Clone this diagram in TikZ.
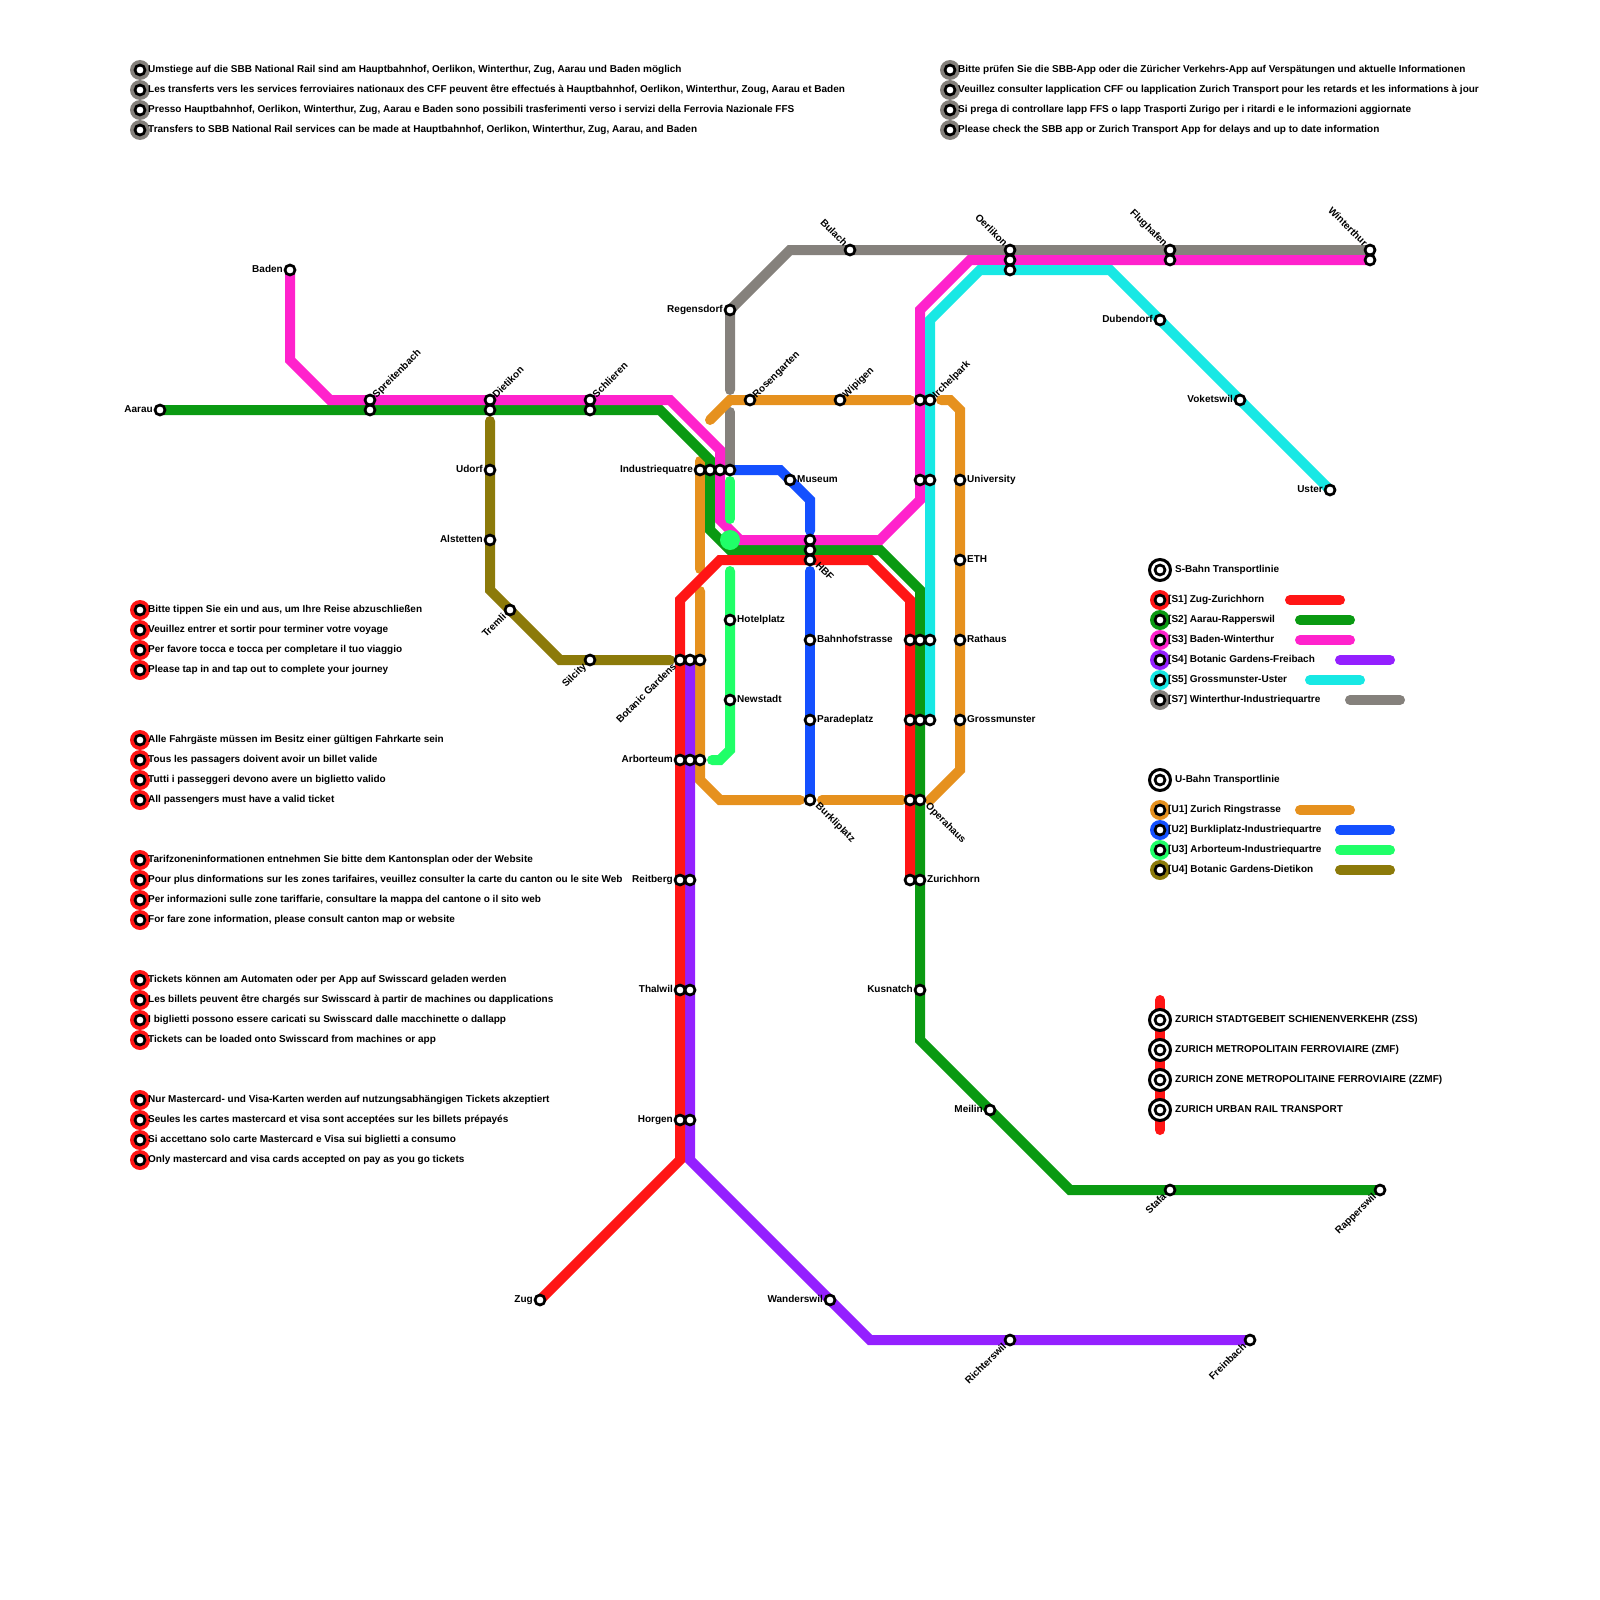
\documentclass[tikz,border=0pt]{standalone}
\usepackage{fontspec}
\setmainfont{Liberation Sans}
\newfontfamily\mapfont{Liberation Sans Bold}
\usetikzlibrary{calc}
\pgfdeclarelayer{lines}
\pgfsetlayers{lines,main}
\definecolor{cS1}{HTML}{FF1515}
\definecolor{cS2}{HTML}{0A9A12}
\definecolor{cS3}{HTML}{FF22CC}
\definecolor{cS4}{HTML}{9420FF}
\definecolor{cS5}{HTML}{18E8E4}
\definecolor{cS7}{HTML}{85817C}
\definecolor{cU1}{HTML}{E6911E}
\definecolor{cU2}{HTML}{1450FF}
\definecolor{cU3}{HTML}{20FF68}
\definecolor{cU4}{HTML}{8C7A0A}
\tikzset{
 x=1pt,y=-1pt,
 stn/.style={circle,draw=black,fill=white,line width=2.7pt,minimum size=10pt,inner sep=0pt},
 halo/.style={circle,fill=#1,draw=none,minimum size=20pt,inner sep=0pt},
 bigring/.style={circle,draw=black,fill=white,line width=3pt,minimum size=21pt,inner sep=0pt},
 txt/.style={font=\mapfont\fontsize{10pt}{11pt}\selectfont,inner sep=0pt,text=black},
 rail/.style={line width=10pt,line cap=round,line join=miter,miter limit=4},
 rS1/.style={rail,draw=cS1},rS2/.style={rail,draw=cS2},rS3/.style={rail,draw=cS3},rS4/.style={rail,draw=cS4},rS5/.style={rail,draw=cS5},rS7/.style={rail,draw=cS7},
 rU1/.style={rail,draw=cU1},rU2/.style={rail,draw=cU2},rU3/.style={rail,draw=cU3},rU4/.style={rail,draw=cU4},
}
% station node
\newcommand\ST[3]{\node[stn] (#1) at (#2,#3) {};}
% labels: right, left, up-right, up-left, down-left, down-right of a station
\newcommand\LR[2]{\node[txt,anchor=base west] (l#1) at ($(#1.center)+(7,2.5)$) {#2};}
\newcommand\LL[2]{\node[txt,anchor=base east] (l#1) at ($(#1.center)+(-7,2.5)$) {#2};}
\newcommand\LUR[2]{\node[txt,anchor=base west,rotate=45] (l#1) at ($(#1.center)+(6.5,-1.5)$) {#2};}
\newcommand\LUL[2]{\node[txt,anchor=base east,rotate=-45] (l#1) at ($(#1.center)+(-6.5,-3)$) {#2};}
\newcommand\LDL[2]{\node[txt,anchor=base east,rotate=45] (l#1) at ($(#1.center)+(-3,7)$) {#2};}
\newcommand\LDR[2]{\node[txt,anchor=base west,rotate=-45] (l#1) at ($(#1.center)+(5,6.5)$) {#2};}
% note line: halo colour, name, x, y, text
\newcommand\NOTE[5]{\node[halo=#1] (h#2) at (#3,#4) {};\node[stn] (n#2) at (#3,#4) {};\node[txt,anchor=base west] (t#2) at ($(n#2.center)+(8,2.5)$) {#5};}
\newcommand\BIG[3]{\node[bigring] (r#1) at (1160,#2) {};\node[stn] (b#1) at (1160,#2) {};\node[txt,anchor=base west] (t#1) at (1175,#2+2.5) {#3};}
\begin{document}
\begin{tikzpicture}
\useasboundingbox (0,0) rectangle (1600,1600);
% --- stations ---
\ST{aarau}{160}{410}
\ST{baden}{290}{270}
\ST{spreA}{370}{400}\ST{spreB}{370}{410}
\ST{dietA}{490}{400}\ST{dietB}{490}{410}
\ST{schlA}{590}{400}\ST{schlB}{590}{410}
\ST{udorf}{490}{470}\ST{alst}{490}{540}\ST{tremli}{510}{610}\ST{silcity}{590}{660}
\ST{regens}{730}{310}\ST{bulach}{850}{250}
\ST{oerA}{1010}{250}\ST{oerB}{1010}{260}\ST{oerC}{1010}{270}
\ST{flugA}{1170}{250}\ST{flugB}{1170}{260}
\ST{wintA}{1370}{250}\ST{wintB}{1370}{260}
\ST{dub}{1160}{320}\ST{vok}{1240}{400}\ST{uster}{1330}{490}
\ST{rosen}{750}{400}\ST{wipi}{840}{400}
\ST{irchA}{920}{400}\ST{irchB}{930}{400}
\ST{uniA}{920}{480}\ST{uniB}{930}{480}\ST{uni}{960}{480}
\ST{eth}{960}{560}
\ST{ratA}{910}{640}\ST{ratB}{920}{640}\ST{ratC}{930}{640}\ST{rat}{960}{640}
\ST{groA}{910}{720}\ST{groB}{920}{720}\ST{groC}{930}{720}\ST{gro}{960}{720}
\ST{opA}{910}{800}\ST{opB}{920}{800}
\ST{zhA}{910}{880}\ST{zhB}{920}{880}
\ST{kus}{920}{990}\ST{meilin}{990}{1110}
\ST{stafa}{1170}{1190}\ST{rapp}{1380}{1190}
\ST{indA}{700}{470}\ST{indB}{710}{470}\ST{indC}{720}{470}\ST{indD}{730}{470}
\ST{museum}{790}{480}
\ST{hbfA}{810}{540}\ST{hbfB}{810}{550}\ST{hbfC}{810}{560}
\ST{bahn}{810}{640}\ST{para}{810}{720}\ST{burk}{810}{800}
\ST{hotel}{730}{620}\ST{newst}{730}{700}
\ST{botA}{680}{660}\ST{botB}{690}{660}\ST{botC}{700}{660}
\ST{arbA}{680}{760}\ST{arbB}{690}{760}\ST{arbC}{700}{760}
\ST{reitA}{680}{880}\ST{reitB}{690}{880}
\ST{thalA}{680}{990}\ST{thalB}{690}{990}
\ST{horA}{680}{1120}\ST{horB}{690}{1120}
\ST{zug}{540}{1300}\ST{wand}{830}{1300}\ST{richt}{1010}{1340}\ST{frei}{1250}{1340}
% --- bends and free ends ---
\coordinate (a1) at (660,410);\coordinate (a2) at (710,460);\coordinate (a3) at (710,530);\coordinate (a4) at (730,550);
\coordinate (a5) at (880,550);\coordinate (a6) at (920,590);\coordinate (a7) at (920,1040);\coordinate (a8) at (1070,1190);
\coordinate (b1) at (290,360);\coordinate (b2) at (330,400);\coordinate (b3) at (670,400);\coordinate (b4) at (720,450);
\coordinate (b5) at (720,520);\coordinate (b6) at (740,540);\coordinate (b7) at (880,540);\coordinate (b8) at (920,500);
\coordinate (b9) at (920,310);\coordinate (b10) at (970,260);
\coordinate (c1) at (680,1160);\coordinate (c2) at (680,600);\coordinate (c3) at (720,560);\coordinate (c4) at (870,560);\coordinate (c5) at (910,600);
\coordinate (d1) at (690,1160);\coordinate (d2) at (870,1340);
\coordinate (e1) at (930,320);\coordinate (e2) at (980,270);\coordinate (e3) at (1110,270);
\coordinate (f1) at (790,250);\coordinate (f2) at (730,390);\coordinate (f3) at (730,412);
\coordinate (g1) at (710,420);\coordinate (g2) at (730,400);\coordinate (g3) at (910,400);\coordinate (g4) at (941,400);
\coordinate (g5) at (950,400);\coordinate (g6) at (960,410);\coordinate (g7) at (960,770);\coordinate (g8) at (930,800);
\coordinate (g9) at (822,800);\coordinate (g10) at (902,800);\coordinate (g11) at (800,800);\coordinate (g12) at (720,800);
\coordinate (g13) at (700,780);\coordinate (g14) at (700,591);\coordinate (g15) at (700,461);\coordinate (g16) at (700,569);
\coordinate (h1) at (780,470);\coordinate (h2) at (810,500);\coordinate (h3) at (810,531);\coordinate (h4) at (810,571);
\coordinate (i1) at (730,481);\coordinate (i2) at (730,519);\coordinate (i3) at (730,571);\coordinate (i4) at (730,750);\coordinate (i5) at (720,760);\coordinate (i6) at (712,760);
\coordinate (j1) at (490,421);\coordinate (j2) at (490,590);\coordinate (j3) at (560,660);\coordinate (j4) at (670,660);
\begin{pgfonlayer}{lines}
\draw[rS7] (wintA.center) -- (f1) -- (regens.center) -- (f2);
\draw[rS7] (f3) -- (indD.center);
\draw[rU1] (g1) -- (g2) -- (g3);
\draw[rU1] (g4) -- (g5) -- (g6) -- (g7) -- (g8);
\draw[rU1] (g9) -- (g10);
\draw[rU1] (g11) -- (g12) -- (g13) -- (g14);
\draw[rU1] (g15) -- (g16);
\draw[rU4] (j1) -- (j2) -- (j3) -- (j4);
\draw[rS2] (aarau.center) -- (a1) -- (a2) -- (a3) -- (a4) -- (a5) -- (a6) -- (a7) -- (a8) -- (rapp.center);
\draw[rS3] (baden.center) -- (b1) -- (b2) -- (b3) -- (b4) -- (b5) -- (b6) -- (b7) -- (b8) -- (b9) -- (b10) -- (wintB.center);
\draw[rS4] (botB.center) -- (d1) -- (d2) -- (frei.center);
\draw[rS1] (zug.center) -- (c1) -- (c2) -- (c3) -- (c4) -- (c5) -- (zhA.center);
\draw[rS5] (groC.center) -- (e1) -- (e2) -- (e3) -- (uster.center);
\draw[rU2] (indD.center) -- (h1) -- (h2) -- (h3);
\draw[rU2] (h4) -- (burk.center);
\draw[rU3] (i1) -- (i2);
\draw[rU3] (i3) -- (i4) -- (i5) -- (i6);
\end{pgfonlayer}
\node[circle,fill=cU3,minimum size=20pt,inner sep=0pt] (hub) at (730,540) {};
% --- station labels ---
\LL{aarau}{Aarau}\LL{baden}{Baden}\LL{udorf}{Udorf}\LL{alst}{Alstetten}
\LUR{spreA}{Spreitenbach}\LUR{dietA}{Dietikon}\LUR{schlA}{Schlieren}
\LDL{tremli}{Tremli}\LDL{silcity}{Silcity}\LDL{botA}{Botanic Gardens}
\LL{regens}{Regensdorf}\LUL{bulach}{Bulach}\LUL{oerA}{Oerlikon}\LUL{flugA}{Flughafen}\LUL{wintA}{Winterthur}
\LL{dub}{Dubendorf}\LL{vok}{Voketswil}\LL{uster}{Uster}
\LUR{rosen}{Rosengarten}\LUR{wipi}{Wipigen}\LUR{irchB}{Irchelpark}
\LR{uni}{University}\LR{eth}{ETH}\LR{rat}{Rathaus}\LR{gro}{Grossmunster}
\LL{indA}{Industriequatre}\LR{museum}{Museum}\LDR{hbfC}{HBF}
\LR{hotel}{Hotelplatz}\LR{newst}{Newstadt}\LR{bahn}{Bahnhofstrasse}\LR{para}{Paradeplatz}
\LDR{burk}{Burkliplatz}\LDR{opB}{Operahaus}\LR{zhB}{Zurichhorn}
\LL{arbA}{Arborteum}\LL{reitA}{Reitberg}\LL{thalA}{Thalwil}\LL{horA}{Horgen}
\LL{kus}{Kusnatch}\LL{meilin}{Meilin}\LDL{stafa}{Stafa}\LDL{rapp}{Rapperswil}
\LL{zug}{Zug}\LL{wand}{Wanderswil}\LDL{richt}{Richterswil}\LDL{frei}{Freinbach}
% --- notes ---
\NOTE{cS7}{a1}{140}{70}{Umstiege auf die SBB National Rail sind am Hauptbahnhof, Oerlikon, Winterthur, Zug, Aarau und Baden möglich}
\NOTE{cS7}{a2}{140}{90}{Les transferts vers les services ferroviaires nationaux des CFF peuvent être effectués à Hauptbahnhof, Oerlikon, Winterthur, Zoug, Aarau et Baden}
\NOTE{cS7}{a3}{140}{110}{Presso Hauptbahnhof, Oerlikon, Winterthur, Zug, Aarau e Baden sono possibili trasferimenti verso i servizi della Ferrovia Nazionale FFS}
\NOTE{cS7}{a4}{140}{130}{Transfers to SBB National Rail services can be made at Hauptbahnhof, Oerlikon, Winterthur, Zug, Aarau, and Baden}
\NOTE{cS7}{b1}{950}{70}{Bitte prüfen Sie die SBB-App oder die Züricher Verkehrs-App auf Verspätungen und aktuelle Informationen}
\NOTE{cS7}{b2}{950}{90}{Veuillez consulter lapplication CFF ou lapplication Zurich Transport pour les retards et les informations à jour}
\NOTE{cS7}{b3}{950}{110}{Si prega di controllare lapp FFS o lapp Trasporti Zurigo per i ritardi e le informazioni aggiornate}
\NOTE{cS7}{b4}{950}{130}{Please check the SBB app or Zurich Transport App for delays and up to date information}
\NOTE{cS1}{c1}{140}{610}{Bitte tippen Sie ein und aus, um Ihre Reise abzuschließen}
\NOTE{cS1}{c2}{140}{630}{Veuillez entrer et sortir pour terminer votre voyage}
\NOTE{cS1}{c3}{140}{650}{Per favore tocca e tocca per completare il tuo viaggio}
\NOTE{cS1}{c4}{140}{670}{Please tap in and tap out to complete your journey}
\NOTE{cS1}{d1}{140}{740}{Alle Fahrgäste müssen im Besitz einer gültigen Fahrkarte sein}
\NOTE{cS1}{d2}{140}{760}{Tous les passagers doivent avoir un billet valide}
\NOTE{cS1}{d3}{140}{780}{Tutti i passeggeri devono avere un biglietto valido}
\NOTE{cS1}{d4}{140}{800}{All passengers must have a valid ticket}
\NOTE{cS1}{e1}{140}{860}{Tarifzoneninformationen entnehmen Sie bitte dem Kantonsplan oder der Website}
\NOTE{cS1}{e2}{140}{880}{Pour plus dinformations sur les zones tarifaires, veuillez consulter la carte du canton ou le site Web}
\NOTE{cS1}{e3}{140}{900}{Per informazioni sulle zone tariffarie, consultare la mappa del cantone o il sito web}
\NOTE{cS1}{e4}{140}{920}{For fare zone information, please consult canton map or website}
\NOTE{cS1}{f1}{140}{980}{Tickets können am Automaten oder per App auf Swisscard geladen werden}
\NOTE{cS1}{f2}{140}{1000}{Les billets peuvent être chargés sur Swisscard à partir de machines ou dapplications}
\NOTE{cS1}{f3}{140}{1020}{I biglietti possono essere caricati su Swisscard dalle macchinette o dallapp}
\NOTE{cS1}{f4}{140}{1040}{Tickets can be loaded onto Swisscard from machines or app}
\NOTE{cS1}{g1}{140}{1100}{Nur Mastercard- und Visa-Karten werden auf nutzungsabhängigen Tickets akzeptiert}
\NOTE{cS1}{g2}{140}{1120}{Seules les cartes mastercard et visa sont acceptées sur les billets prépayés}
\NOTE{cS1}{g3}{140}{1140}{Si accettano solo carte Mastercard e Visa sui biglietti a consumo}
\NOTE{cS1}{g4}{140}{1160}{Only mastercard and visa cards accepted on pay as you go tickets}
% --- line legend ---
\BIG{sb}{570}{S-Bahn Transportlinie}
\NOTE{cS1}{k1}{1160}{600}{[S1] Zug-Zurichhorn}
\NOTE{cS2}{k2}{1160}{620}{[S2] Aarau-Rapperswil}
\NOTE{cS3}{k3}{1160}{640}{[S3] Baden-Winterthur}
\NOTE{cS4}{k4}{1160}{660}{[S4] Botanic Gardens-Freibach}
\NOTE{cS5}{k5}{1160}{680}{[S5] Grossmunster-Uster}
\NOTE{cS7}{k7}{1160}{700}{[S7] Winterthur-Industriequartre}
\BIG{ub}{780}{U-Bahn Transportlinie}
\NOTE{cU1}{u1}{1160}{810}{[U1] Zurich Ringstrasse}
\NOTE{cU2}{u2}{1160}{830}{[U2] Burkliplatz-Industriequartre}
\NOTE{cU3}{u3}{1160}{850}{[U3] Arborteum-Industriequartre}
\NOTE{cU4}{u4}{1160}{870}{[U4] Botanic Gardens-Dietikon}
\coordinate (ka1) at (1290,600);\coordinate (ka2) at (1340,600);
\coordinate (kb1) at (1300,620);\coordinate (kb2) at (1350,620);
\coordinate (kc1) at (1300,640);\coordinate (kc2) at (1350,640);
\coordinate (kd1) at (1340,660);\coordinate (kd2) at (1390,660);
\coordinate (ke1) at (1310,680);\coordinate (ke2) at (1360,680);
\coordinate (kf1) at (1350,700);\coordinate (kf2) at (1400,700);
\coordinate (ma1) at (1300,810);\coordinate (ma2) at (1350,810);
\coordinate (mb1) at (1340,830);\coordinate (mb2) at (1390,830);
\coordinate (mc1) at (1340,850);\coordinate (mc2) at (1390,850);
\coordinate (md1) at (1340,870);\coordinate (md2) at (1390,870);
\coordinate (za1) at (1160,1000);\coordinate (za2) at (1160,1130);
\begin{pgfonlayer}{lines}
\draw[rS1] (ka1) -- (ka2);\draw[rS2] (kb1) -- (kb2);\draw[rS3] (kc1) -- (kc2);
\draw[rS4] (kd1) -- (kd2);\draw[rS5] (ke1) -- (ke2);\draw[rS7] (kf1) -- (kf2);
\draw[rU1] (ma1) -- (ma2);\draw[rU2] (mb1) -- (mb2);\draw[rU3] (mc1) -- (mc2);\draw[rU4] (md1) -- (md2);
\draw[rS1] (za1) -- (za2);
\end{pgfonlayer}
\BIG{z1}{1020}{ZURICH STADTGEBEIT SCHIENENVERKEHR (ZSS)}
\BIG{z2}{1050}{ZURICH METROPOLITAIN FERROVIAIRE (ZMF)}
\BIG{z3}{1080}{ZURICH ZONE METROPOLITAINE FERROVIAIRE (ZZMF)}
\BIG{z4}{1110}{ZURICH URBAN RAIL TRANSPORT}
\end{tikzpicture}
\end{document}
